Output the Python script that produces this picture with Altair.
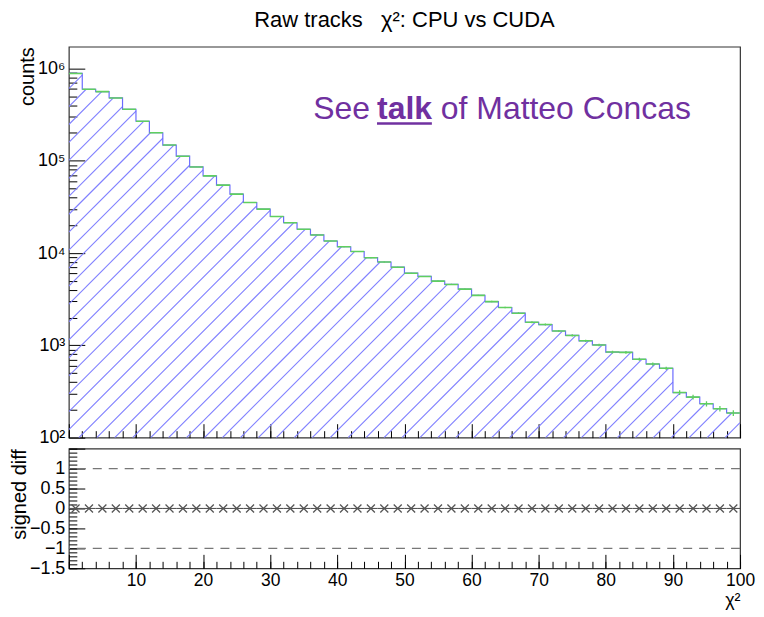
import altair as alt
import pandas as pd
import math

# ---------------- data ----------------
bin_lo = list(range(0, 100, 2))
bin_hi = list(range(2, 101, 2))
cpu_counts = [883000, 595000, 561000, 479000, 361000, 268000, 201000, 148000, 112000, 85700,
              68500, 54400, 43500, 35300, 29900, 24900, 21300, 18100, 15700, 13500,
              11700, 10400, 8900, 8000, 7030, 6050, 5580, 4970, 4570, 4070,
              3480, 2980, 2570, 2230, 1780, 1680, 1430, 1280, 1120, 1010,
              846, 840, 706, 628, 564, 308, 275, 233, 206, 185]
cuda_counts = list(cpu_counts)
signed_diff = [0.0] * 50
ref_lines = [-1.0, 1.0]
x_major = list(range(0, 101, 10))
x_minor = list(range(0, 101, 2))
y_log_major = [1e2, 1e3, 1e4, 1e5, 1e6]
y_log_minor = [m * 10 ** k for k in range(2, 6) for m in range(2, 10)]
diff_major = [-1.5, -1.0, -0.5, 0.0, 0.5, 1.0, 1.5]
diff_minor = [round(-1.5 + 0.1 * i, 2) for i in range(31)]

# ---------------- styling ----------------
FONT = "Liberation Sans"
W = 673
H_UP = 392
H_LOW = 120
GAP = 11
Y_MIN, Y_MAX = 100, 1.72e6
BLUE_HATCH = "#8080ff"
BLUE_LINE = "#6a6aff"
GREEN = "#5fcf5f"
GREY = "#555555"
FRAME = "#333333"
PURPLE = "#7030a0"
HATCH_SPACING = 18.0   # px between hatch lines (horizontal)
HATCH_PHASE = 10.0

step_df = pd.DataFrame({"x": bin_lo + [100], "y": cpu_counts + [cpu_counts[-1]]})
bins_df = pd.DataFrame({
    "lo": bin_lo, "hi": bin_hi,
    "mid": [(a + b) / 2 for a, b in zip(bin_lo, bin_hi)],
    "cuda": cuda_counts,
    "elo": [c - math.sqrt(c) for c in cuda_counts],
    "ehi": [c + math.sqrt(c) for c in cuda_counts],
    "diff": signed_diff,
})
ref_df = pd.DataFrame({"r": ref_lines})

# ---- 45-degree "/" hatch lines clipped to the histogram (computed from the counts) ----
ppx = W / 100.0
ppd = H_UP / (math.log10(Y_MAX) - 2)
bw = 2 * ppx
nb = len(cpu_counts)
hts = [(math.log10(v) - 2) * ppd for v in cpu_counts]
segs = []
c = HATCH_PHASE - HATCH_SPACING * math.ceil((hts[0] + HATCH_PHASE) / HATCH_SPACING)
for _ in range(400):
    if c >= W:
        break
    if c >= 0:
        sx, sy = c, 0.0
    else:
        sx, sy = 0.0, -c
    i = min(int(sx / bw), nb - 1)
    if sy < hts[i]:
        ex, ey = None, None
        for _j in range(nb + 1):
            right = (i + 1) * bw
            h = hts[i]
            if right - c <= h:
                if i == nb - 1:
                    ex, ey = W, W - c
                    break
                if right - c >= hts[i + 1]:
                    ex, ey = right, right - c
                    break
                i += 1
            else:
                ex, ey = h + c, h
                break
        if ex is not None:
            segs.append({"x_start": sx / ppx, "x_end": ex / ppx,
                         "y_start": 10 ** (2 + sy / ppd), "y_end": 10 ** (2 + ey / ppd)})
    c += HATCH_SPACING
hatch_df = pd.DataFrame(segs)

xs = alt.Scale(domain=[0, 100], nice=False, zero=False)
ys_up = alt.Scale(type="log", domain=[Y_MIN, Y_MAX], nice=False)
ys_low = alt.Scale(domain=[-1.5, 1.5], nice=False, zero=False)

common_axis = dict(domain=False, grid=False, tickColor="black", tickWidth=1,
                   labelFont=FONT, labelFontSize=18, labelColor="black",
                   titleFont=FONT, titleFontSize=20, titleColor="black",
                   titleFontWeight="normal", labelFlush=False, labelOverlap=False)
x_axis_style = dict(common_axis, labelFontSize=17.5)

sup = "['⁰','¹','²','³','⁴','⁵','⁶','⁷','⁸','⁹'][round(log(datum.value)/LN10)]"

ax_up_x_major = alt.Axis(orient="bottom", values=x_major, labels=False, tickSize=14,
                         offset=-14, title=None, **x_axis_style)
ax_up_x_minor = alt.Axis(orient="bottom", values=x_minor, labels=False, tickSize=7,
                         offset=-7, title=None, **x_axis_style)
ax_up_y_major = alt.Axis(orient="left", values=y_log_major, tickSize=16, offset=-16,
                         labelPadding=4, labelExpr="'10' + " + sup,
                         title="counts", titleAnchor="end", titlePadding=0,
                         **common_axis)
ax_up_y_minor = alt.Axis(orient="left", values=y_log_minor, labels=False, tickSize=8,
                         offset=-8, title=None, **common_axis)

hatch_lines = alt.Chart(hatch_df).mark_rule(color=BLUE_HATCH, strokeWidth=1.1, clip=True).encode(
    x=alt.X("x_start:Q", scale=xs, axis=ax_up_x_major), x2="x_end:Q",
    y=alt.Y("y_start:Q", scale=ys_up, axis=ax_up_y_major), y2="y_end:Q",
)
outline = alt.Chart(step_df).mark_line(interpolate="step-after", color=BLUE_LINE,
                                        strokeWidth=1.2, clip=True).encode(
    x=alt.X("x:Q", scale=xs, axis=ax_up_x_minor),
    y=alt.Y("y:Q", scale=ys_up, axis=ax_up_y_minor),
)
green_tops = alt.Chart(bins_df).mark_rule(color=GREEN, strokeWidth=1.6, clip=True).encode(
    x=alt.X("lo:Q", scale=xs, axis=None), x2="hi:Q",
    y=alt.Y("cuda:Q", scale=ys_up, axis=None),
)
green_err = alt.Chart(bins_df).mark_rule(color=GREEN, strokeWidth=1.3, clip=True).encode(
    x=alt.X("mid:Q", scale=xs, axis=None),
    y=alt.Y("elo:Q", scale=ys_up, axis=None), y2="ehi:Q",
)

ann_df = pd.DataFrame({"a": [0]})
t1 = alt.Chart(ann_df).mark_text(text="See", font=FONT, fontSize=32, color=PURPLE,
                                 align="left", baseline="alphabetic").encode(
    x=alt.value(245), y=alt.value(72))
t2 = alt.Chart(ann_df).mark_text(text="talk", font=FONT, fontSize=32, color=PURPLE,
                                 fontWeight="bold", align="left", baseline="alphabetic").encode(
    x=alt.value(309), y=alt.value(72))
t3 = alt.Chart(ann_df).mark_text(text="of Matteo Concas", font=FONT, fontSize=32, color=PURPLE,
                                 align="left", baseline="alphabetic").encode(
    x=alt.value(373), y=alt.value(72))
uline = alt.Chart(ann_df).mark_rule(color=PURPLE, strokeWidth=2.5).encode(
    x=alt.value(309), x2=alt.value(364), y=alt.value(77))

upper = alt.layer(hatch_lines, outline, green_tops, green_err, t1, t2, t3, uline).resolve_axis(
    x="independent", y="independent"
).properties(
    width=W, height=H_UP,
    title=alt.TitleParams("Raw tracks\u00a0\u00a0\u00a0χ²: CPU vs CUDA", font=FONT, fontSize=22,
                          fontWeight="normal", color="black", anchor="middle",
                          frame="group", offset=15),
)

# ---------------- lower panel ----------------
ax_lo_x_major = alt.Axis(orient="bottom", values=x_major, tickSize=14, offset=-14,
                         labelPadding=3, labelExpr="datum.value == 0 ? '' : datum.value",
                         title="χ²", titleAnchor="end", titlePadding=3, titleFontSize=18,
                         **{k: v for k, v in x_axis_style.items() if k != "titleFontSize"})
ax_lo_x_minor = alt.Axis(orient="bottom", values=x_minor, labels=False, tickSize=7,
                         offset=-7, title=None, **x_axis_style)
ax_lo_y_major = alt.Axis(orient="left", values=diff_major, tickSize=16, offset=-16,
                         labelPadding=4,
                         labelExpr="datum.value > 1.2 ? '' : (datum.value < 0 ? '−' : '') + abs(datum.value)",
                         title="signed diff", titleAnchor="end", titlePadding=0,
                         **common_axis)
ax_lo_y_minor = alt.Axis(orient="left", values=diff_minor, labels=False, tickSize=8,
                         offset=-8, title=None, **common_axis)

dashed = alt.Chart(ref_df).mark_rule(color="#777777", strokeDash=[9, 7], strokeWidth=1.3).encode(
    y=alt.Y("r:Q", scale=ys_low, axis=ax_lo_y_major),
)
xerr = alt.Chart(bins_df).mark_rule(color=GREY, strokeWidth=1.1).encode(
    x=alt.X("lo:Q", scale=xs, axis=ax_lo_x_major), x2="hi:Q",
    y=alt.Y("diff:Q", scale=ys_low, axis=ax_lo_y_minor),
)
crosses = alt.Chart(bins_df).mark_point(shape="M-1,-1L1,1M-1,1L1,-1", size=64, filled=False,
                                        color=GREY, strokeWidth=1.3, opacity=1).encode(
    x=alt.X("mid:Q", scale=xs, axis=ax_lo_x_minor),
    y=alt.Y("diff:Q", scale=ys_low, axis=None),
)

lower = alt.layer(dashed, xerr, crosses).resolve_axis(
    x="independent", y="independent"
).properties(width=W, height=H_LOW)

chart = alt.vconcat(upper, lower, spacing=GAP, bounds="flush").properties(
    padding={"top": -1, "left": 0, "right": 0, "bottom": 0}, background="white"
).configure_view(stroke=FRAME, strokeWidth=1.2)

chart.save("out.html", embed_options={"renderer": "svg", "actions": False})
